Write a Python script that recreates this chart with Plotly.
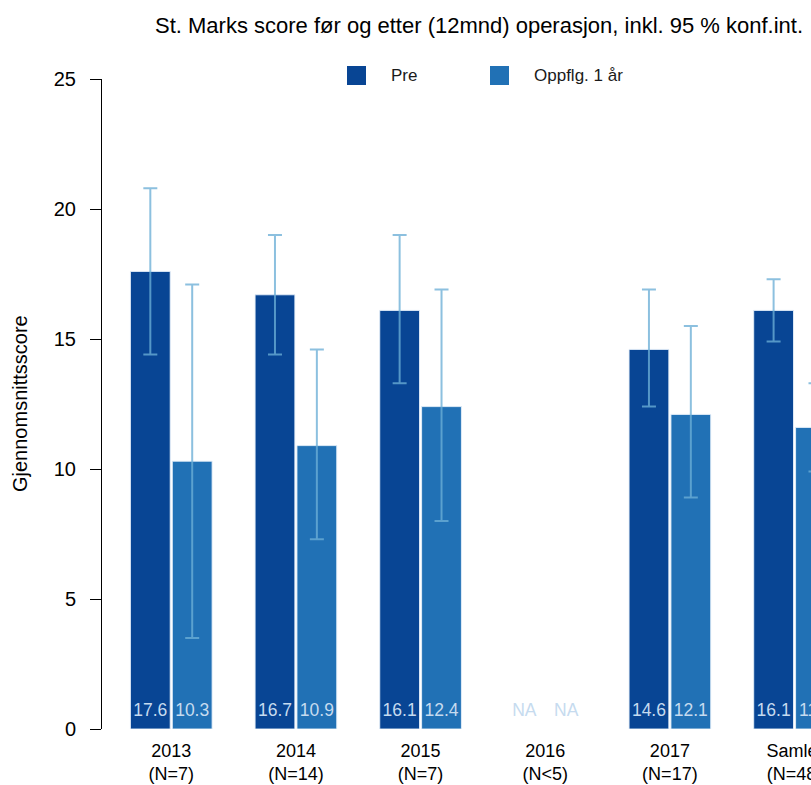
import plotly.graph_objects as go

# St. Marks score before and 12 months after surgery, with 95 % CI
categories = ["2013", "2014", "2015", "2016", "2017", "Samlet"]
n_labels = ["(N=7)", "(N=14)", "(N=7)", "(N<5)", "(N=17)", "(N=48)"]

pre_mean = [17.6, 16.7, 16.1, None, 14.6, 16.1]
pre_lower = [14.4, 14.4, 13.3, None, 12.4, 14.9]
pre_upper = [20.8, 19.0, 19.0, None, 16.9, 17.3]

fu_mean = [10.3, 10.9, 12.4, None, 12.1, 11.6]
fu_lower = [3.5, 7.3, 8.0, None, 8.9, 9.9]
fu_upper = [17.1, 14.6, 16.9, None, 15.5, 13.3]

series_names = ["Pre", "Oppflg. 1 år"]
y_ticks = [0, 5, 10, 15, 20, 25]

PRE_COLOR = "#084594"
FU_COLOR = "#2171b5"
ERR_COLOR = "rgba(107,174,214,0.78)"
LABEL_COLOR = "#c6dbef"
FONT = "Liberation Sans, Arial, sans-serif"

W, H = 811, 785
ML, MR, MT, MB = 102, 0, 79, 56
PW, PH = W - ML - MR, H - MT - MB


def px_x(p):
    return (p - ML) / PW


def px_y(p):
    return (H - MB - p) / PH


def err_plus(mean, upper):
    return [None if m is None else u - m for m, u in zip(mean, upper)]


def err_minus(mean, lower):
    return [None if m is None else m - l for m, l in zip(mean, lower)]


def fmt(v):
    return "NA" if v is None else f"{v:.1f}"


idx = list(range(len(categories)))
half = 0.168  # centre offset of each bar inside a group

fig = go.Figure()

for name, mean, lo, hi, col in [
    (series_names[0], pre_mean, pre_lower, pre_upper, PRE_COLOR),
    (series_names[1], fu_mean, fu_lower, fu_upper, FU_COLOR),
]:
    fig.add_trace(go.Bar(
        x=idx, y=mean, name=name,
        marker=dict(color=col, line=dict(color="rgba(230,240,250,0.9)", width=1)),
        error_y=dict(type="data", array=err_plus(mean, hi),
                     arrayminus=err_minus(mean, lo), symmetric=False,
                     color=ERR_COLOR, thickness=2, width=7),
        showlegend=False,
    ))

# value labels near the bottom of each bar
for mean, sign in [(pre_mean, -1), (fu_mean, 1)]:
    fig.add_trace(go.Scatter(
        x=[i + sign * half for i in idx], y=[0.65] * len(idx),
        mode="text", text=[fmt(v) for v in mean],
        textfont=dict(family=FONT, size=17.5, color=LABEL_COLOR),
        textposition="middle center", showlegend=False, hoverinfo="skip",
        cliponaxis=True,
    ))

# legend drawn as squares + labels
legend_items = [(347, 389, PRE_COLOR, series_names[0]),
                (490, 532, FU_COLOR, series_names[1])]
for sx, tx, col, label in legend_items:
    fig.add_shape(type="rect", xref="paper", yref="paper",
                  x0=px_x(sx), x1=px_x(sx + 19), y0=px_y(85), y1=px_y(66),
                  fillcolor=col, line=dict(width=0))
    fig.add_annotation(xref="paper", yref="paper", x=px_x(tx), y=px_y(76),
                       text=label, showarrow=False, xanchor="left",
                       yanchor="middle",
                       font=dict(family=FONT, size=17, color="#1a1a1a"))

fig.add_annotation(xref="paper", yref="paper", x=px_x(20), y=px_y(404),
                   text="Gjennomsnittsscore", textangle=-90, showarrow=False,
                   xanchor="center", yanchor="middle",
                   font=dict(family=FONT, size=20, color="#000000"))

fig.update_layout(
    width=W, height=H,
    margin=dict(l=ML, r=MR, t=MT, b=MB, pad=0),
    template="none",
    paper_bgcolor="white", plot_bgcolor="white",
    barmode="group", bargap=0.328, bargroupgap=0.05,
    title=dict(text="St. Marks score før og etter (12mnd) operasjon, inkl. 95 % konf.int.",
               xref="container", yref="container", x=155 / W, xanchor="left",
               y=1 - 25 / H, yanchor="middle",
               font=dict(family=FONT, size=22, color="#000000")),
    xaxis=dict(range=[-0.5556, 5.132], tickvals=idx,
               ticktext=[f"{c}<br>{n}" for c, n in zip(categories, n_labels)],
               showline=False, showgrid=False, zeroline=False, ticks="",
               ticklabelstandoff=9, automargin=False,
               ticklabeloverflow="allow",
               tickfont=dict(family=FONT, size=18, color="#000000")),
    yaxis=dict(range=[0, 25], tickvals=y_ticks, showgrid=False, zeroline=False,
               showline=True, linecolor="#000000", linewidth=1,
               ticks="outside", ticklen=11, tickcolor="#000000",
               ticklabelstandoff=10, automargin=False,
               tickfont=dict(family=FONT, size=20, color="#000000")),
)

fig.write_html("out.html")
